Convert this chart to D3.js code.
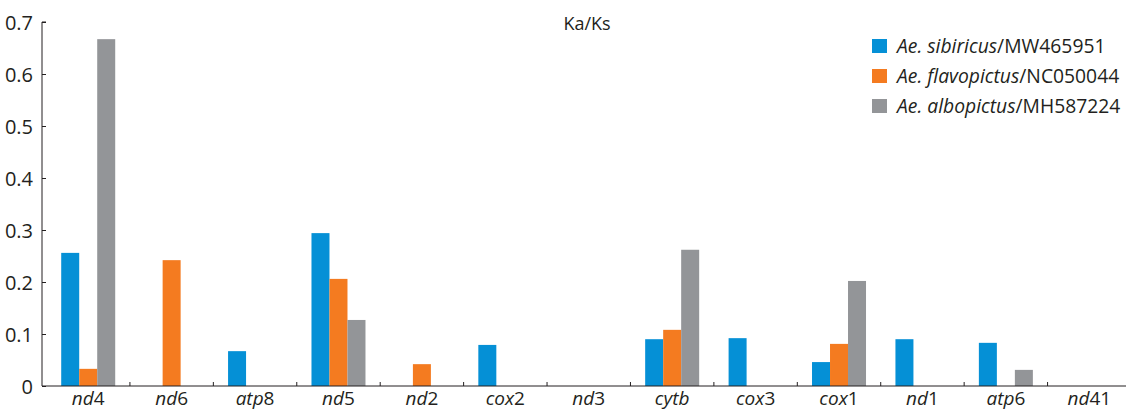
<!DOCTYPE html>
<html>
<head>
<meta charset="utf-8">
<script src="https://cdn.jsdelivr.net/npm/d3@7"></script>
<style>
  body { margin: 0; background: #fff; }
  svg text { font-family: "Open Sans", "Noto Sans", sans-serif; fill: #231f20; }
</style>
</head>
<body>
<div id="chart"></div>
<script>
// genes along the x axis: italic part + upright number
const genes = ["nd4", "nd6", "atp8", "nd5", "nd2", "cox2", "nd3", "cytb", "cox3", "cox1", "nd1", "atp6", "nd41"];
const seriesNames = [
  ["Ae. sibiricus", "/MW465951"],
  ["Ae. flavopictus", "/NC050044"],
  ["Ae. albopictus", "/MH587224"],
];
const sibiricus   = [0.256, 0, 0.067, 0.294, 0, 0.079, 0, 0.090, 0.092, 0.046, 0.090, 0.083, 0];
const flavopictus = [0.033, 0.242, 0, 0.206, 0.042, 0, 0, 0.108, 0, 0.081, 0, 0, 0];
const albopictus  = [0.667, 0, 0, 0.127, 0, 0, 0, 0.262, 0, 0.202, 0, 0.031, 0];
const yTicks = [0, 0.1, 0.2, 0.3, 0.4, 0.5, 0.6, 0.7];
const colors = ["#0590d6", "#f47b20", "#939598"];

const width = 1126, height = 410;
const allSeries = [sibiricus, flavopictus, albopictus];

const svg = d3.select("#chart").append("svg")
  .attr("width", width).attr("height", height);

const x = d3.scaleBand().domain(genes).range([46.5, 1131]).paddingInner(0).paddingOuter(0);
const y = d3.scaleLinear().domain([0, 0.7]).range([386, 22]);
const barW = 18;

// bars
genes.forEach((g, i) => {
  const cx = x(g) + x.bandwidth() / 2;
  allSeries.forEach((s, j) => {
    const v = s[i];
    if (!v) return;
    svg.append("rect")
      .attr("x", cx - 1.5 * barW + j * barW)
      .attr("y", y(v))
      .attr("width", barW)
      .attr("height", y(0) - y(v))
      .attr("fill", colors[j]);
  });
});

// y axis
const yAxis = svg.append("g").attr("transform", "translate(42,0)")
  .call(d3.axisRight(y).tickValues(yTicks).tickSize(4).tickFormat(d => d === 0 ? "0" : d3.format(".1f")(d)));
yAxis.select(".domain").attr("d", `M4,${y(0.7)}H0V${y(0)}`).attr("stroke", "#231f20");
yAxis.selectAll(".tick line").attr("stroke", "#231f20");
yAxis.selectAll(".tick text")
  .attr("x", -9).attr("text-anchor", "end")
  .style("font-size", "20px").attr("dy", "0.35em");

// x axis line and ticks at category boundaries
svg.append("line").attr("x1", 42).attr("x2", width).attr("y1", y(0)).attr("y2", y(0))
  .attr("stroke", "#231f20");
svg.selectAll(".xtick").data(genes.slice(1)).join("line")
  .attr("class", "xtick")
  .attr("x1", d => x(d)).attr("x2", d => x(d))
  .attr("y1", y(0)).attr("y2", y(0) - 4)
  .attr("stroke", "#231f20");

const xl = svg.selectAll(".xlab").data(genes).join("text")
  .attr("class", "xlab")
  .attr("x", d => x(d) + x.bandwidth() / 2)
  .attr("y", 405)
  .attr("text-anchor", "middle")
  .style("font-size", "19px");
xl.append("tspan").style("font-style", "italic").text(d => d.replace(/\d+$/, ""));
xl.append("tspan").text(d => (d.match(/\d+$/) || [""])[0]);

// title
svg.append("text").attr("x", 587).attr("y", 30).attr("text-anchor", "middle")
  .style("font-size", "18px").text("Ka/Ks");

// legend
const leg = svg.append("g").attr("transform", "translate(872,39)");
seriesNames.forEach((n, i) => {
  const row = leg.append("g").attr("transform", `translate(0,${i * 30})`);
  row.append("rect").attr("width", 15).attr("height", 14).attr("fill", colors[i]);
  const t = row.append("text").attr("x", 25).attr("y", 14).style("font-size", "19.3px");
  t.append("tspan").style("font-style", "italic").text(n[0]);
  t.append("tspan").text(n[1]);
});
</script>
</body>
</html>
